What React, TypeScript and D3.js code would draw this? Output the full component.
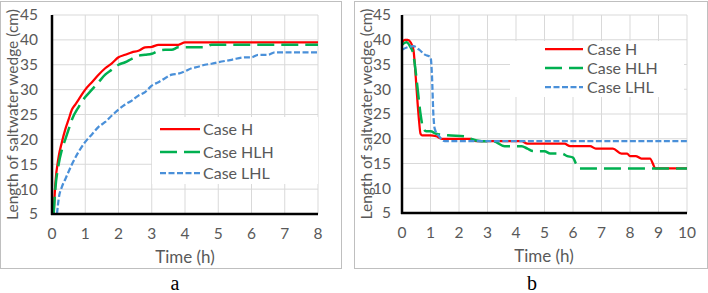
import React from "react";
import * as d3 from "d3";

// ---------- Data ----------
const aTimeH = [0.05, 0.1, 0.2, 0.3, 0.4, 0.5, 0.6, 0.7, 0.8, 1.0, 1.2, 1.4, 1.6, 1.8, 2.0, 2.2, 2.4, 2.6, 2.8, 3.0, 3.2, 3.5, 3.8, 4.0, 5.0, 6.0, 7.0, 8.0];
const aCaseH = [5, 11, 16.5, 19.5, 22, 24, 26, 27, 28, 30, 31.5, 33, 34.3, 35.3, 36.5, 37, 37.5, 37.8, 38.5, 38.6, 39, 39, 39, 39.5, 39.5, 39.5, 39.5, 39.5];

const aTimeHLH = [0.05, 0.1, 0.2, 0.3, 0.4, 0.5, 0.6, 0.8, 1.0, 1.2, 1.4, 1.6, 1.8, 2.0, 2.2, 2.4, 2.6, 2.8, 3.0, 3.2, 3.4, 3.6, 3.8, 4.0, 4.6, 4.8, 5.0, 6.0, 7.0, 8.0];
const aCaseHLH = [5, 10, 15, 18, 20, 22, 24, 26.5, 28.5, 30, 31.5, 33, 34, 35, 35.5, 36.2, 36.8, 37, 37.2, 37.8, 38, 38, 38.5, 38.5, 38.5, 39, 39, 39, 39, 39];

const aTimeLHL = [0.15, 0.2, 0.3, 0.4, 0.6, 0.8, 1.0, 1.2, 1.4, 1.6, 1.8, 2.0, 2.2, 2.4, 2.6, 2.8, 3.0, 3.2, 3.4, 3.6, 3.8, 4.0, 4.2, 4.4, 4.6, 4.8, 5.0, 5.4, 5.8, 6.0, 6.2, 6.5, 6.7, 7.0, 8.0];
const aCaseLHL = [5, 8, 10.5, 12, 15, 17.5, 19.5, 21, 22.5, 23.5, 24.8, 26, 27, 27.8, 28.8, 29.5, 30.8, 31.5, 32.3, 33, 33.2, 33.7, 34.3, 34.6, 35, 35.2, 35.5, 36, 36.5, 36.5, 37, 37, 37.5, 37.5, 37.5];

const bTimeH = [0, 0.1, 0.2, 0.3, 0.4, 0.45, 0.5, 0.55, 0.6, 0.65, 0.7, 1.0, 1.2, 1.4, 2.0, 2.4, 2.6, 4.2, 4.4, 5.7, 5.9, 6.6, 6.8, 7.4, 7.7, 7.9, 8.0, 8.2, 8.4, 8.7, 8.9, 10];
const bCaseH = [39.5, 40, 40, 39.5, 38, 35, 31, 27, 23.5, 21, 20.7, 20.7, 20.5, 20, 20, 20, 19.5, 19.5, 19, 19, 18.5, 18.5, 18, 18, 17, 17, 16.5, 16.5, 16, 16, 14, 14];

const bTimeHLH = [0, 0.15, 0.3, 0.4, 0.45, 0.55, 0.65, 0.75, 0.85, 1.0, 1.2, 1.6, 2.2, 2.4, 2.8, 3.2, 3.6, 4.2, 4.4, 4.6, 5.0, 5.2, 5.6, 5.8, 6.0, 6.1, 6.2, 10];
const bCaseHLH = [39, 39.5, 38.5, 37, 35, 30, 25, 22, 21.5, 21.5, 21, 20.7, 20.5, 20, 19.5, 19.5, 18.5, 18.5, 18, 17.5, 17.5, 17, 17, 16.5, 16.2, 15, 14, 14];

const bTimeLHL = [0, 0.2, 0.4, 0.6, 0.8, 1.0, 1.05, 1.1, 1.15, 1.3, 1.5, 10];
const bCaseLHL = [38, 38.5, 38.7, 38, 37, 36.5, 33, 25, 22, 20.5, 19.5, 19.5];

const yTicks = [5, 10, 15, 20, 25, 30, 35, 40, 45];
const aXTicks = [0, 1, 2, 3, 4, 5, 6, 7, 8];
const bXTicks = [0, 1, 2, 3, 4, 5, 6, 7, 8, 9, 10];
const legendNames = ["Case H", "Case HLH", "Case LHL"];

// ---------- Styles ----------
const FONT = "Lato, 'Open Sans', 'Liberation Sans', sans-serif";
const TXT = "#595959";
const GRID = "#d9d9d9";
const seriesStyle = [
  { color: "#ff0000", width: 2.25, dash: "" },
  { color: "#00b050", width: 2.5, dash: "17 7" },
  { color: "#4a90d9", width: 2.25, dash: "6 2.5" },
];

type Series = { t: number[]; v: number[] };

type PanelProps = {
  frame: [number, number, number, number];
  plot: { x0: number; x1: number; y0: number; y1: number };
  xMax: number;
  xTicks: number[];
  series: Series[];
  legendBox: [number, number, number, number];
  legendLineX: [number, number];
  legendTextX: number;
  legendY: number[];
  yLabelGap: number;
  yTitleX: number;
  xTitleX: number;
  letter: string;
  letterX: number;
};

function Panel(p: PanelProps) {
  const x = d3.scaleLinear().domain([0, p.xMax]).range([p.plot.x0, p.plot.x1]);
  const y = d3.scaleLinear().domain([5, 45]).range([p.plot.y1, p.plot.y0]);
  const line = d3
    .line<[number, number]>()
    .x((d) => x(d[0]))
    .y((d) => y(d[1]))
    .curve(d3.curveMonotoneX);
  const [fx, fy, fw, fh] = p.frame;
  const [lx, ly, lw, lh] = p.legendBox;
  return (
    <g>
      <rect x={fx + 0.5} y={fy + 0.5} width={fw} height={fh} fill="#fff" stroke="#bfbfbf" strokeWidth={1} />
      {yTicks.map((t) => (
        <line key={"gy" + t} x1={p.plot.x0} x2={p.plot.x1} y1={y(t)} y2={y(t)} stroke={GRID} strokeWidth={1} />
      ))}
      {p.xTicks.map((t) => (
        <line key={"gx" + t} x1={x(t)} x2={x(t)} y1={p.plot.y0} y2={p.plot.y1} stroke={GRID} strokeWidth={1} />
      ))}
      <rect x={lx} y={ly} width={lw} height={lh} fill="#fff" />
      {p.series.map((s, i) => (
        <path
          key={"s" + i}
          d={line(s.t.map((t, j) => [t, s.v[j]] as [number, number])) || ""}
          fill="none"
          stroke={seriesStyle[i].color}
          strokeWidth={seriesStyle[i].width}
          strokeDasharray={seriesStyle[i].dash}
          strokeLinejoin="round"
        />
      ))}
      <line x1={p.plot.x0} x2={p.plot.x0} y1={p.plot.y0} y2={p.plot.y1 + 1} stroke="#000" strokeWidth={2.5} />
      <line x1={p.plot.x0 - 1} x2={p.plot.x1} y1={p.plot.y1} y2={p.plot.y1} stroke="#000" strokeWidth={2.5} />
      {yTicks.map((t) => (
        <text key={"ty" + t} x={p.plot.x0 - p.yLabelGap} y={y(t)} dy="0.35em" textAnchor="end" fontSize={15.5} fill={TXT} fontFamily={FONT}>
          {t}
        </text>
      ))}
      {p.xTicks.map((t) => (
        <text key={"tx" + t} x={x(t)} y={p.plot.y1 + 20} dy="0.35em" textAnchor="middle" fontSize={15.5} fill={TXT} fontFamily={FONT}>
          {t}
        </text>
      ))}
      <text x={p.xTitleX} y={p.plot.y1 + 43} dy="0.35em" textAnchor="middle" fontSize={17} fill={TXT} fontFamily={FONT}>
        Time (h)
      </text>
      <text
        transform={`translate(${p.yTitleX},${(p.plot.y0 + p.plot.y1) / 2}) rotate(-90)`}
        dy="0.35em"
        textAnchor="middle"
        fontSize={15.5}
        fill={TXT}
        fontFamily={FONT}
      >
        Length of saltwater wedge (cm)
      </text>
      {legendNames.map((n, i) => (
        <g key={"lg" + i}>
          <line
            x1={p.legendLineX[0]}
            x2={p.legendLineX[1]}
            y1={p.legendY[i]}
            y2={p.legendY[i]}
            stroke={seriesStyle[i].color}
            strokeWidth={seriesStyle[i].width}
            strokeDasharray={seriesStyle[i].dash}
          />
          <text x={p.legendTextX} y={p.legendY[i]} dy="0.35em" fontSize={16} fill={TXT} fontFamily={FONT}>
            {n}
          </text>
        </g>
      ))}
      <text x={p.letterX} y={290} textAnchor="middle" fontSize={20} fill="#000" fontFamily="'Liberation Serif', 'DejaVu Serif', serif">
        {p.letter}
      </text>
    </g>
  );
}

export default function App() {
  return (
    <svg width={708} height={293} style={{ position: "absolute", left: 0, top: 0, background: "#fff" }}>
      <rect x={0} y={0} width={708} height={293} fill="#fff" />
      <Panel
        frame={[0, 1, 341, 267]}
        plot={{ x0: 52, x1: 318, y0: 15, y1: 214 }}
        xMax={8}
        xTicks={aXTicks}
        series={[
          { t: aTimeH, v: aCaseH },
          { t: aTimeHLH, v: aCaseHLH },
          { t: aTimeLHL, v: aCaseLHL },
        ]}
        legendBox={[152, 117, 166, 67]}
        legendLineX={[160, 200]}
        legendTextX={203}
        legendY={[129, 152, 173]}
        yLabelGap={14}
        yTitleX={13}
        xTitleX={185}
        letter="a"
        letterX={175}
      />
      <Panel
        frame={[354, 1, 353, 267]}
        plot={{ x0: 402, x1: 687, y0: 15, y1: 213 }}
        xMax={10}
        xTicks={bXTicks}
        series={[
          { t: bTimeH, v: bCaseH },
          { t: bTimeHLH, v: bCaseHLH },
          { t: bTimeLHL, v: bCaseLHL },
        ]}
        legendBox={[510, 41, 174, 56]}
        legendLineX={[545, 583]}
        legendTextX={587}
        legendY={[49, 68, 87]}
        yLabelGap={11}
        yTitleX={367}
        xTitleX={544}
        letter="b"
        letterX={532}
      />
    </svg>
  );
}
